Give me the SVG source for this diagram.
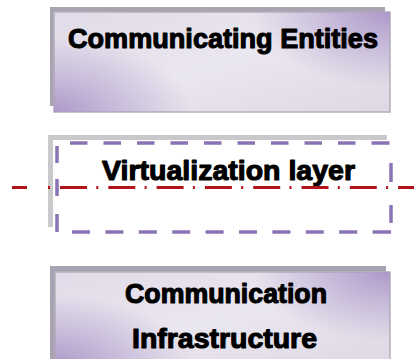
<svg xmlns="http://www.w3.org/2000/svg" width="414" height="359" viewBox="0 0 414 359">
  <defs>
    <radialGradient id="cTR" cx="1" cy="0" r="0.75" gradientUnits="objectBoundingBox" gradientTransform="translate(1 0) scale(0.55 1) translate(-1 0)">
      <stop offset="0" stop-color="#ad99c9" stop-opacity="1"/>
      <stop offset="1" stop-color="#ad99c9" stop-opacity="0"/>
    </radialGradient>
    <radialGradient id="cBL" cx="0" cy="1" r="0.75" gradientUnits="objectBoundingBox" gradientTransform="translate(0 1) scale(0.55 1) translate(0 -1)">
      <stop offset="0" stop-color="#ad99c9" stop-opacity="1"/>
      <stop offset="1" stop-color="#ad99c9" stop-opacity="0"/>
    </radialGradient>
    <linearGradient id="base" x1="0" y1="0" x2="1" y2="1">
      <stop offset="0" stop-color="#e0dbe8"/>
      <stop offset="0.5" stop-color="#ebe7f0"/>
      <stop offset="1" stop-color="#ddd8e3"/>
    </linearGradient>
  </defs>
  <style>
    .shadow { fill: #a8a3b0; }
    .face { stroke: #b4b0b8; stroke-width: 1.5; }
    .lbl { font-family: "Liberation Sans", Arial, sans-serif; font-weight: bold; font-size: 27px; fill: #000; stroke: #000; stroke-width: 1.1; stroke-linejoin: round; text-anchor: middle; }
    .dash { fill: none; stroke: #8a74b3; stroke-width: 3.5; }
    .redline { fill: none; stroke: #b3141c; stroke-width: 3; }
  </style>

  <g id="communicating-entities">
    <rect class="shadow" x="50" y="7" width="335" height="99"/>
    <rect class="face" x="54" y="12" width="336" height="100" fill="url(#base)"/>
    <rect x="54" y="12" width="336" height="100" fill="url(#cTR)"/>
    <rect x="54" y="12" width="336" height="100" fill="url(#cBL)"/>
    <text class="lbl" x="223" y="48" textLength="310" lengthAdjust="spacingAndGlyphs">Communicating Entities</text>
  </g>

  <g id="virtualization-layer">
    <rect x="48" y="135" width="339" height="92" fill="#c9c9cb"/>
    <rect x="53" y="140" width="340" height="94" fill="#ffffff"/>
    <path class="dash" d="M70,143 h17.5 M103.5,143 h17.5 M137,143 h17.5 M170.5,143 h17.5 M204,143 h17.5 M237.5,143 h17.5 M271,143 h17.5 M304.5,143 h17.5 M338,143 h17.5 M371.5,143 h18
      M391,163 v19 M391,205 v18
      M72,232 h18 M105.4,232 h18 M138.8,232 h18 M172.2,232 h18 M205.6,232 h18 M239,232 h18 M272.4,232 h18 M305.8,232 h18 M339.2,232 h18 M372.6,232 h18.4
      M57,146 v17 M57,179 v17 M57,214 v18"/>
    <text class="lbl" x="228.5" y="179.5" textLength="253" lengthAdjust="spacingAndGlyphs">Virtualization layer</text>
  </g>

  <g id="communication-infrastructure">
    <rect class="shadow" x="50" y="266" width="336" height="93"/>
    <rect class="face" x="55" y="272" width="335" height="92" fill="url(#base)"/>
    <rect x="55" y="272" width="335" height="92" fill="url(#cTR)"/>
    <rect x="55" y="272" width="335" height="92" fill="url(#cBL)"/>
    <text class="lbl" x="226" y="303" textLength="202" lengthAdjust="spacingAndGlyphs">Communication</text>
    <text class="lbl" x="224.5" y="348" textLength="185" lengthAdjust="spacingAndGlyphs">Infrastructure</text>
  </g>

  <g id="connectors">
    <line class="redline" x1="12" y1="187.5" x2="27" y2="187.5"/>
    <line class="redline" x1="48" y1="187.5" x2="414" y2="187.5" stroke-dasharray="2 10 27 9.3"/>
  </g>
</svg>
